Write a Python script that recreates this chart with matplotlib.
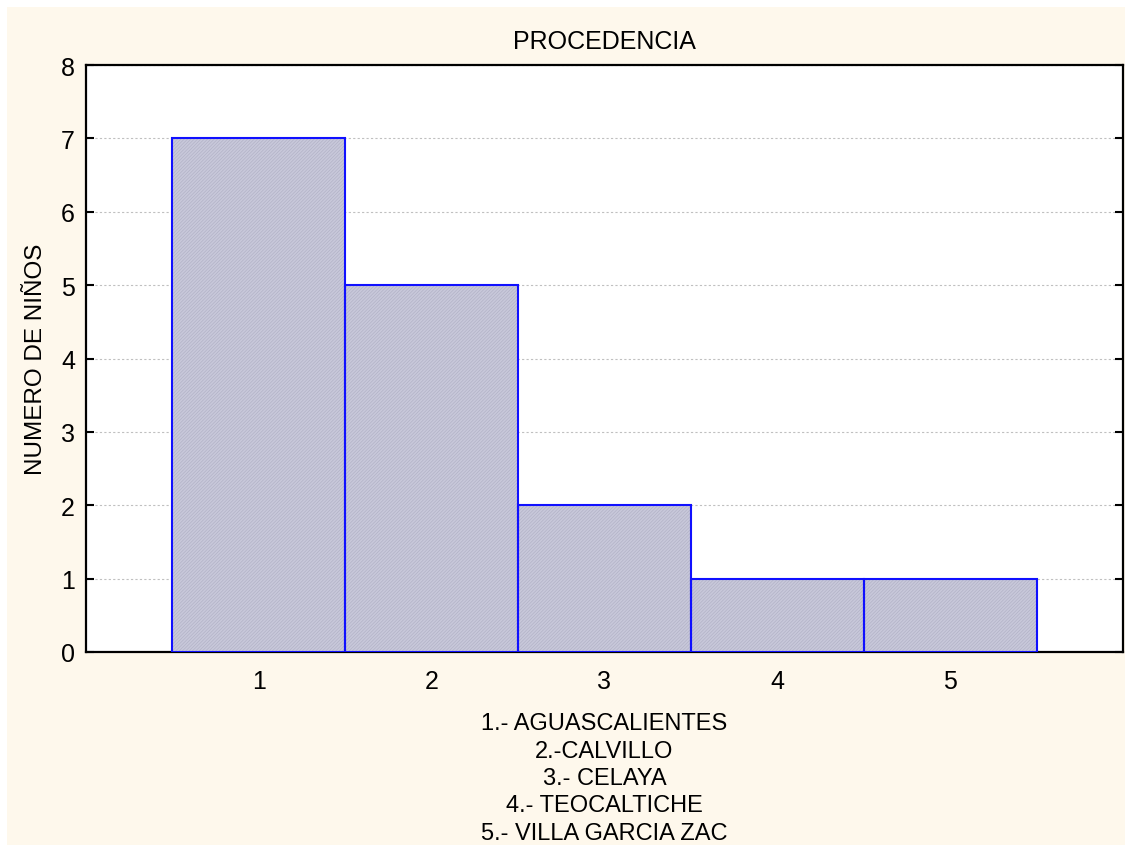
import matplotlib
matplotlib.use("Agg")
import matplotlib.pyplot as plt
from matplotlib.patches import Rectangle

# datos
categorias = [1, 2, 3, 4, 5]
ninos = [7, 5, 2, 1, 1]
etiquetas = ["1.- AGUASCALIENTES", "2.-CALVILLO", "3.- CELAYA",
             "4.- TEOCALTICHE", "5.- VILLA GARCIA ZAC"]

plt.rcParams['font.family'] = ['Liberation Sans', 'DejaVu Sans']
plt.rcParams['hatch.linewidth'] = 0.5

fig = plt.figure(figsize=(11.32, 8.54), dpi=100, facecolor='white')
# fondo crema con borde blanco
fig.patches.append(Rectangle((7/1132, 8/854), 1118/1132, 838/854,
                             transform=fig.transFigure, facecolor='#fef8ec',
                             edgecolor='none', zorder=-10))

ax = fig.add_axes([86/1132, 1 - 653/854, (1123-86)/1132, (653-66)/854])
ax.set_facecolor('white')

# relleno rayado fino (el color del rayado sale del edgecolor) y luego el borde azul
ax.bar(categorias, ninos, width=1.0, facecolor='#c8c8da', edgecolor='#b2b2c6',
       linewidth=0, hatch='//////////', zorder=3)
ax.bar(categorias, ninos, width=1.0, fill=False, edgecolor='#1010ff',
       linewidth=1.5, zorder=4)

ax.set_xlim(0, 6)
ax.set_ylim(0, 8)
ax.set_xticks(categorias)
ax.set_yticks(range(0, 9))
ax.tick_params(axis='both', direction='in', length=6, width=1.5, labelsize=18)
ax.tick_params(axis='y', right=True, pad=8)
ax.tick_params(axis='x', pad=12)
ax.yaxis.grid(True, linestyle=(0, (2, 2)), color='#c0c0c0', linewidth=0.8, zorder=0)
for s in ax.spines.values():
    s.set_linewidth(1.6)
    s.set_color('black')

ax.set_title("PROCEDENCIA", fontsize=18, pad=12)
ax.set_ylabel("NUMERO DE NIÑOS", fontsize=17.5, labelpad=10)
ax.set_xlabel("\n".join(etiquetas), fontsize=17, labelpad=14, linespacing=1.32)

fig.savefig("out.png", dpi=100, facecolor=fig.get_facecolor())
